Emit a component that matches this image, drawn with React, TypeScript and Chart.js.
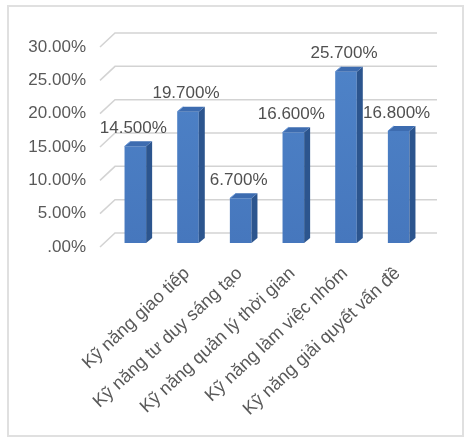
import React, { useEffect, useRef } from "react";
import { Chart, registerables } from "chart.js";

Chart.register(...registerables);

const categories = [
  "",
  "Kỹ năng giao tiếp",
  "Kỹ năng tư duy sáng tạo",
  "Kỹ năng quản lý thời gian",
  "Kỹ năng làm việc nhóm",
  "Kỹ năng giải quyết vấn đề",
];
const values = [14.5, 19.7, 6.7, 16.6, 25.7, 16.8];
const yTickLabels = [".00%", "5.00%", "10.00%", "15.00%", "20.00%", "25.00%", "30.00%"];

const FONT = "'Liberation Sans', Arial, sans-serif";
const TEXT = "#595959";
const BAR_DX = 3;
const BAR_DY = -4;
const DEPTH_X = 6;
const DEPTH_Y = -5;

const framePlugin = {
  id: "frame",
  beforeDraw(chart: any) {
    const ctx = chart.ctx;
    ctx.save();
    ctx.fillStyle = "#ffffff";
    ctx.fillRect(0, 0, chart.width, chart.height);
    ctx.strokeStyle = "#e0e0e0";
    ctx.lineWidth = 2;
    ctx.strokeRect(8, 6, 455, 430);
    ctx.restore();
  },
};

const gridPlugin = {
  id: "grid3d",
  beforeDatasetsDraw(chart: any) {
    const ctx = chart.ctx;
    const y = chart.scales.y;
    const { left, right } = chart.chartArea;
    ctx.save();
    ctx.strokeStyle = "#d3d3d3";
    ctx.lineWidth = 1.5;
    y.ticks.forEach((t: any) => {
      const yf = y.getPixelForValue(t.value);
      ctx.beginPath();
      ctx.moveTo(left - 6, yf);
      ctx.lineTo(left + 9, yf - 14);
      ctx.lineTo(right + 15, yf - 14);
      ctx.stroke();
    });
    ctx.restore();
  },
};

const bars3dPlugin = {
  id: "bars3d",
  beforeDatasetsDraw(chart: any) {
    chart.ctx.save();
    chart.ctx.translate(BAR_DX, BAR_DY);
  },
  afterDatasetsDraw(chart: any) {
    const ctx = chart.ctx;
    const meta = chart.getDatasetMeta(0);
    meta.data.forEach((el: any) => {
      const w = el.width;
      const l = el.x - w / 2;
      const r = el.x + w / 2;
      const top = el.y;
      const base = el.base;
      ctx.beginPath();
      ctx.moveTo(r, top);
      ctx.lineTo(r + DEPTH_X, top + DEPTH_Y);
      ctx.lineTo(r + DEPTH_X, base + DEPTH_Y);
      ctx.lineTo(r, base);
      ctx.closePath();
      ctx.fillStyle = "#2c558e";
      ctx.fill();
      ctx.beginPath();
      ctx.moveTo(l, top);
      ctx.lineTo(l + DEPTH_X, top + DEPTH_Y);
      ctx.lineTo(r + DEPTH_X, top + DEPTH_Y);
      ctx.lineTo(r, top);
      ctx.closePath();
      ctx.fillStyle = "#3d6cb0";
      ctx.fill();
      ctx.strokeStyle = "#6d9ad8";
      ctx.lineWidth = 1;
      ctx.beginPath();
      ctx.moveTo(l, top);
      ctx.lineTo(l + DEPTH_X, top + DEPTH_Y);
      ctx.stroke();
    });
    ctx.restore();
    ctx.save();
    ctx.fillStyle = "#505050";
    ctx.font = `17px ${FONT}`;
    ctx.textAlign = "center";
    ctx.textBaseline = "middle";
    meta.data.forEach((el: any, i: number) => {
      ctx.fillText(values[i].toFixed(3) + "%", el.x + 1, el.y - 22);
    });
    ctx.restore();
  },
};

export default function App() {
  const ref = useRef<HTMLCanvasElement>(null);
  useEffect(() => {
    if (!ref.current) return;
    const chart = new Chart(ref.current, {
      type: "bar",
      data: {
        labels: categories,
        datasets: [
          {
            data: values,
            backgroundColor: (c: any) => {
              const ca = c.chart.chartArea;
              if (!ca) return "#4a7ec4";
              const g = c.chart.ctx.createLinearGradient(0, ca.top, 0, ca.bottom);
              g.addColorStop(0, "#4f84c9");
              g.addColorStop(1, "#4677bd");
              return g;
            },
            borderWidth: 0,
            barPercentage: 0.41,
            categoryPercentage: 1,
          },
        ],
      },
      options: {
        responsive: false,
        animation: false,
        devicePixelRatio: 1,
        layout: { padding: { left: 0, top: 47, right: 43, bottom: 0 } },
        plugins: {
          legend: { display: false },
          tooltip: { enabled: false },
        },
        scales: {
          x: {
            grid: { display: false, drawTicks: false },
            border: { display: false },
            ticks: {
              autoSkip: false,
              minRotation: 43,
              maxRotation: 43,
              padding: 16,
              labelOffset: 2,
              color: TEXT,
              font: { family: FONT, size: 18 },
            },
            afterFit: (s: any) => {
              s.height = 192;
            },
          },
          y: {
            min: 0,
            max: 30,
            grid: { display: false, drawTicks: false },
            border: { display: false },
            ticks: {
              stepSize: 5,
              padding: 20,
              color: TEXT,
              font: { family: FONT, size: 17 },
              callback: (_v: any, i: number) => yTickLabels[i],
            },
            afterFit: (s: any) => {
              s.width = 106;
            },
          },
        },
      },
      plugins: [framePlugin, gridPlugin, bars3dPlugin],
    });
    return () => chart.destroy();
  }, []);
  return (
    <div style={{ position: "absolute", left: 0, top: 0, width: 465, height: 439 }}>
      <canvas ref={ref} width={465} height={439} style={{ display: "block" }} />
    </div>
  );
}
